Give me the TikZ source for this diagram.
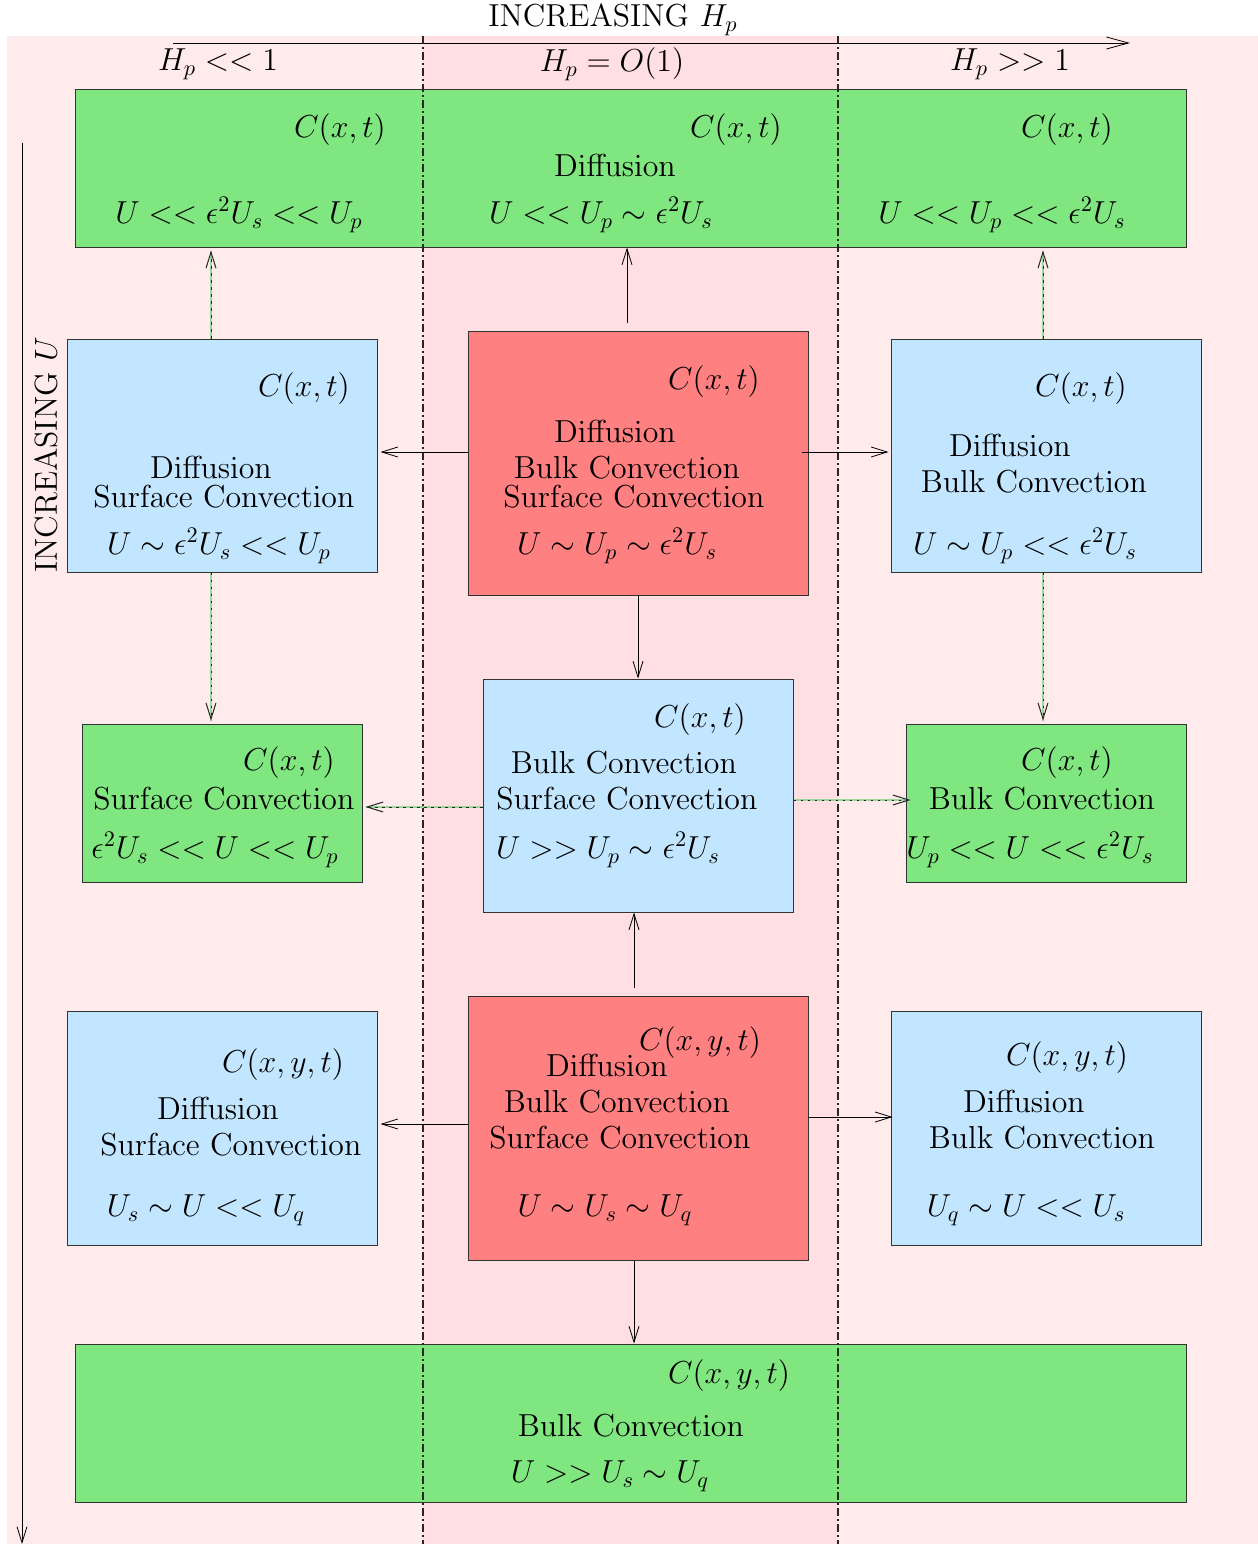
\RequirePackage{fix-cm}
\documentclass[tikz,border=0pt]{standalone}
\usepackage[OT1]{fontenc}
\usepackage{amsmath,amssymb}
\usepackage{tikz}
\usetikzlibrary{arrows.meta,calc}

\definecolor{boxgreen}{RGB}{128,230,128}
\definecolor{boxblue}{RGB}{194,230,255}
\definecolor{boxred}{RGB}{255,128,128}
\definecolor{bgpink}{RGB}{255,235,235}
\definecolor{bandpink}{RGB}{255,223,225}

\tikzset{
  regime/.style={draw=black!80, line width=0.5pt, inner sep=0pt},
  greenbox/.style={regime, fill=boxgreen},
  bluebox/.style={regime, fill=boxblue},
  redbox/.style={regime, fill=boxred},
  lbl/.style={font=\fontsize{15.9}{19}\selectfont, inner sep=0pt},
  plainarrow/.style={-{Straight Barb[length=8pt,width=5pt]}, black},
  dotarrow/.style={-{Straight Barb[length=8pt,width=5pt]}, black!85, line width=0.5pt,
    dash pattern=on 1.2pt off 2.3pt,
    preaction={draw=green!60!black!40, line width=0.6pt, solid, -}},
  divider/.style={black!85, line width=0.55pt, dash pattern=on 4pt off 1.6pt on 0.8pt off 1.6pt}
}

\begin{document}
\begin{tikzpicture}[x=0.5pt,y=-0.5pt]
  \useasboundingbox (0,0) rectangle (1258,1544);
  % background and the H_p = O(1) band
  \fill[bgpink] (7,36) rectangle (1258,1544);
  \fill[bandpink] (423,36) rectangle (838,1544);

  % axes
  \node[lbl] (hptitle) at (613,20) {INCREASING $H_p$};
  \coordinate (hpstart) at (173,43);
  \coordinate (hpend) at (1130,43);
  \draw[-{Straight Barb[length=11pt,width=6pt]}] (hpstart) -- (hpend);
  \node[lbl] (hplow) at (218,64) {$H_p << 1$};
  \node[lbl] (hpmid) at (612,64) {$H_p = O(1)$};
  \node[lbl] (hphigh) at (1010,64) {$H_p >> 1$};
  \coordinate (ustart) at (22,143);
  \coordinate (uend) at (22,1544);
  \draw[-{Straight Barb[length=8pt,width=5pt]}] (ustart) -- (uend);
  \node[lbl, rotate=90] (utitle) at (46,455) {INCREASING $U$};

  % row 1
  \node[greenbox, minimum width=555.5pt, minimum height=79pt] (top) at (630.5,168) {};
  \node[lbl] (topCa) at (340,130) {$C(x,t)$};
  \node[lbl] (topCb) at (736,130) {$C(x,t)$};
  \node[lbl] (topCc) at (1067,130) {$C(x,t)$};
  \node[lbl] (topD) at (615,165) {Diffusion};
  \node[lbl] (topUa) at (239,215) {$U << \epsilon^2U_s << U_p$};
  \node[lbl] (topUb) at (601,215) {$U << U_p \sim \epsilon^2U_s$};
  \node[lbl] (topUc) at (1002,215) {$U << U_p << \epsilon^2U_s$};

  % row 2
  \node[bluebox, minimum width=155pt, minimum height=116.5pt] (lb1) at (222,455.5) {};
  \node[lbl] (lb1C) at (304,389) {$C(x,t)$};
  \node[lbl] (lb1D) at (211,467) {Diffusion};
  \node[lbl] (lb1S) at (224,496) {Surface Convection};
  \node[lbl] (lb1U) at (219,546) {$U \sim \epsilon^2U_s << U_p$};

  \node[redbox, minimum width=170pt, minimum height=132pt] (rd1) at (638,463) {};
  \node[lbl] (rd1C) at (714,382) {$C(x,t)$};
  \node[lbl] (rd1D) at (615,431) {Diffusion};
  \node[lbl] (rd1B) at (627,467) {Bulk Convection};
  \node[lbl] (rd1S) at (634,496) {Surface Convection};
  \node[lbl] (rd1U) at (617,546) {$U \sim U_p \sim \epsilon^2U_s$};

  \node[bluebox, minimum width=155pt, minimum height=116.5pt] (rb1) at (1046,455.5) {};
  \node[lbl] (rb1C) at (1081,389) {$C(x,t)$};
  \node[lbl] (rb1D) at (1010,445) {Diffusion};
  \node[lbl] (rb1B) at (1034,481) {Bulk Convection};
  \node[lbl] (rb1U) at (1025,546) {$U \sim U_p << \epsilon^2U_s$};

  % row 3
  \node[greenbox, minimum width=140pt, minimum height=79pt] (lg2) at (222,803) {};
  \node[lbl] (lg2C) at (289,763) {$C(x,t)$};
  \node[lbl] (lg2S) at (224,798) {Surface Convection};
  \node[lbl] (lg2U) at (215,850) {$\epsilon^2U_s << U << U_p$};

  \node[bluebox, minimum width=155pt, minimum height=116.5pt] (mb2) at (638,795.5) {};
  \node[lbl] (mb2C) at (700,720) {$C(x,t)$};
  \node[lbl] (mb2B) at (624,762) {Bulk Convection};
  \node[lbl] (mb2S) at (627,798) {Surface Convection};
  \node[lbl] (mb2U) at (608,850) {$U >> U_p \sim \epsilon^2U_s$};

  \node[greenbox, minimum width=140pt, minimum height=79pt] (rg2) at (1046,803) {};
  \node[lbl] (rg2C) at (1067,763) {$C(x,t)$};
  \node[lbl] (rg2B) at (1042,798) {Bulk Convection};
  \node[lbl] (rg2U) at (1030,850) {$U_p << U << \epsilon^2U_s$};

  % row 4
  \node[bluebox, minimum width=155pt, minimum height=117pt] (lb3) at (222,1128) {};
  \node[lbl] (lb3C) at (283,1065) {$C(x,y,t)$};
  \node[lbl] (lb3D) at (218,1108) {Diffusion};
  \node[lbl] (lb3S) at (231,1144) {Surface Convection};
  \node[lbl] (lb3U) at (206,1210) {$U_s \sim U << U_q$};

  \node[redbox, minimum width=170pt, minimum height=132pt] (rd3) at (638,1128) {};
  \node[lbl] (rd3D) at (607,1065) {Diffusion};
  \node[lbl] (rd3C) at (700,1043) {$C(x,y,t)$};
  \node[lbl] (rd3B) at (617,1101) {Bulk Convection};
  \node[lbl] (rd3S) at (620,1137) {Surface Convection};
  \node[lbl] (rd3U) at (605,1210) {$U \sim U_s \sim U_q$};

  \node[bluebox, minimum width=155pt, minimum height=117pt] (rb3) at (1046,1128) {};
  \node[lbl] (rb3C) at (1067,1058) {$C(x,y,t)$};
  \node[lbl] (rb3D) at (1024,1101) {Diffusion};
  \node[lbl] (rb3B) at (1042,1137) {Bulk Convection};
  \node[lbl] (rb3U) at (1026,1210) {$U_q \sim U << U_s$};

  % row 5
  \node[greenbox, minimum width=555.5pt, minimum height=79pt] (bot) at (630.5,1423) {};
  \node[lbl] (botC) at (729,1376) {$C(x,y,t)$};
  \node[lbl] (botB) at (631,1425) {Bulk Convection};
  \node[lbl] (botU) at (610,1476) {$U >> U_s \sim U_q$};

  % regime boundaries
  \draw[divider] (423,36) -- (423,1544);
  \draw[divider] (838,36) -- (838,1544);

  % transitions
  \draw[plainarrow] ($(rd1.north)+(-5.5pt,4pt)$) -- ($(rd1.north |- top.south)+(-5.5pt,0)$);
  \draw[plainarrow] ([yshift=5.5pt]rd1.west) -- ([yshift=5.5pt,xshift=1.5pt]rd1.west -| lb1.east);
  \draw[plainarrow] ([yshift=5.5pt,xshift=-3.5pt]rd1.east) -- ([yshift=5.5pt,xshift=-1pt]rd1.east -| rb1.west);
  \draw[plainarrow] (rd1.south) -- (mb2.north);
  \draw[dotarrow] ([xshift=-5.5pt]lb1.north) -- ([xshift=-5.5pt,yshift=-1.5pt]lb1.north |- top.south);
  \draw[dotarrow] ([xshift=-1.5pt]rb1.north) -- ([xshift=-1.5pt,yshift=-1.5pt]rb1.north |- top.south);
  \draw[dotarrow] ([xshift=-5.5pt]lb1.south) -- ([xshift=-5.5pt,yshift=1.5pt]lb1.south |- lg2.north);
  \draw[dotarrow] ([xshift=-1.5pt]rb1.south) -- ([xshift=-1.5pt,yshift=1.5pt]rb1.south |- rg2.north);
  \draw[dotarrow] ([yshift=-5.75pt]mb2.west) -- ([yshift=-5.75pt,xshift=1.5pt]mb2.west -| lg2.east);
  \draw[dotarrow] ([yshift=-2.25pt]mb2.east) -- ([yshift=-2.25pt,xshift=2.5pt]mb2.east -| rg2.west);
  \draw[plainarrow] ($(rd3.north)+(-2pt,4pt)$) -- ($(mb2.south)+(-2pt,0)$);
  \draw[plainarrow] ([yshift=2pt]rd3.west) -- ([yshift=2pt,xshift=1.5pt]rd3.west -| lb3.east);
  \draw[plainarrow] ([yshift=5.5pt]rd3.east) -- ([yshift=5.5pt,xshift=1pt]rd3.east -| rb3.west);
  \draw[plainarrow] ($(rd3.south)+(-2pt,0)$) -- ($(bot.north)+(1.75pt,0)$);
\end{tikzpicture}
\end{document}
